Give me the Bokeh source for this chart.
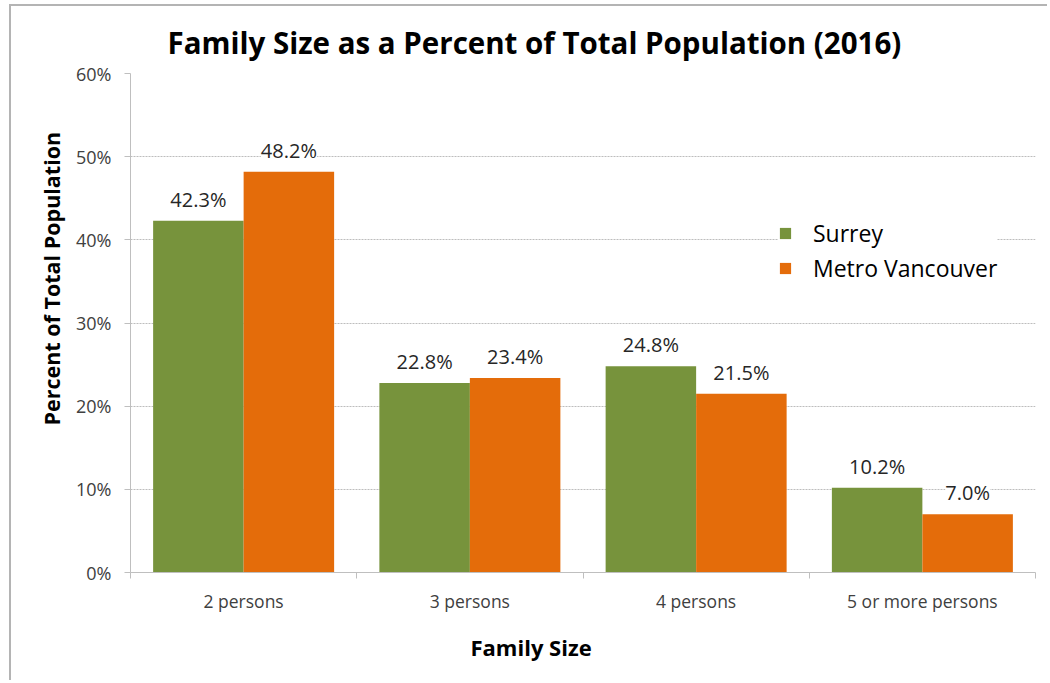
from bokeh.plotting import figure
from bokeh.models import (ColumnDataSource, Range1d, LinearAxis, FixedTicker,
                          PrintfTickFormatter, LabelSet, Legend, LegendItem, Title)
from bokeh.core.properties import value
from bokeh.transform import dodge
from bokeh.embed import file_html
from bokeh.resources import INLINE

categories = ["2 persons", "3 persons", "4 persons", "5 or more persons"]
surrey = [42.3, 22.8, 24.8, 10.2]
metro = [48.2, 23.4, 21.5, 7.0]
y_ticks = [0, 10, 20, 30, 40, 50, 60]
series_names = ["Surrey", "Metro Vancouver"]
colors = ["#77933C", "#E46C0A"]

FONT = "Open Sans"
TXT = "#404040"

n = len(categories)
centers = [i + 0.5 for i in range(n)]

src = ColumnDataSource(dict(
    pos=centers,
    surrey=surrey,
    metro=metro,
    surrey_lbl=[f"{v:.1f}%" for v in surrey],
    metro_lbl=[f"{v:.1f}%" for v in metro],
))

p = figure(width=1038, height=676, x_range=Range1d(0, n), y_range=Range1d(0, 60),
           output_backend="svg", toolbar_location=None, x_axis_location=None,
           min_border_left=119, min_border_right=14, min_border_top=67, min_border_bottom=110)
p.styles = {"margin-left": "9px", "margin-top": "4px",
            "border-left": "2px solid #b4b4b4", "border-top": "2px solid #b4b4b4"}
p.outline_line_color = None
p.background_fill_color = "white"
p.border_fill_color = "white"

# title
p.title.text = "Family Size as a Percent of Total Population (2016)"
p.title.text_font = FONT
p.title.text_font_size = "29.5px"
p.title.text_font_style = "bold"
p.title.text_color = "black"
p.title.align = "left"
p.title.offset = 37
p.title.standoff = 22

# y axis
p.yaxis.ticker = FixedTicker(ticks=y_ticks)
p.yaxis.formatter = PrintfTickFormatter(format="%d%%")
p.yaxis.axis_line_color = "#bfbfbf"
p.yaxis.major_tick_line_color = "#bfbfbf"
p.yaxis.major_tick_out = 6
p.yaxis.major_tick_in = 0
p.yaxis.minor_tick_line_color = None
p.yaxis.major_label_text_font = FONT
p.yaxis.major_label_text_font_size = "18px"
p.yaxis.major_label_text_color = TXT
p.yaxis.major_label_standoff = 13

p.ygrid.ticker = FixedTicker(ticks=y_ticks)
p.ygrid.grid_line_color = "#bdbdbd"
p.ygrid.grid_line_dash = "2 1"
p.xgrid.grid_line_color = None

# x axes: boundary ticks (no labels) + category labels
tick_axis = LinearAxis(ticker=FixedTicker(ticks=list(range(n + 1))),
                       major_label_text_color=None, major_tick_out=6, major_tick_in=0,
                       minor_tick_line_color=None, axis_line_color="#bfbfbf",
                       major_tick_line_color="#bfbfbf", major_label_standoff=0)
cat_axis = LinearAxis(ticker=FixedTicker(ticks=centers),
                      major_label_overrides={c: lab for c, lab in zip(centers, categories)},
                      axis_line_color=None, major_tick_line_color=None, minor_tick_line_color=None,
                      major_label_text_font=FONT, major_label_text_font_size="17.5px",
                      major_label_text_color=TXT, major_label_standoff=4)
xtitle = Title(text="Family Size", text_font=FONT, text_font_size="22px", text_font_style="bold",
               text_color="black", align="left", offset=340, standoff=28)
p.add_layout(tick_axis, "below")
p.add_layout(cat_axis, "below")
p.add_layout(xtitle, "below")

ytitle = Title(text="Percent of Total Population", text_font=FONT, text_font_size="21.5px",
               text_font_style="bold", text_color="black", align="left", offset=147, standoff=16)
p.add_layout(ytitle, "left")

# bars
r1 = p.vbar(x=dodge("pos", -0.2), top="surrey", width=0.4, source=src,
            fill_color=colors[0], line_color=None)
r2 = p.vbar(x=dodge("pos", 0.2), top="metro", width=0.4, source=src,
            fill_color=colors[1], line_color=None)

for col, off in (("surrey", -0.2), ("metro", 0.2)):
    lbl = LabelSet(x=dodge("pos", off), y=col, text=col + "_lbl", source=src,
                   text_align="center", text_baseline="bottom", y_offset=8,
                   text_font=value(FONT), text_font_size=value("20px"), text_color="#262626",
                   background_fill_color="white", border_line_color=None)
    p.add_layout(lbl)

legend = Legend(items=[LegendItem(label=series_names[0], renderers=[r1]),
                       LegendItem(label=series_names[1], renderers=[r2])],
                location=(648, 288), label_text_font=FONT, label_text_font_size="23px",
                label_text_color="black", glyph_width=14, glyph_height=14, spacing=3,
                label_standoff=21, border_line_color=None, background_fill_color="white",
                background_fill_alpha=1, padding=8)
p.add_layout(legend, "center")

open("out.html", "w").write(file_html(p, INLINE))
